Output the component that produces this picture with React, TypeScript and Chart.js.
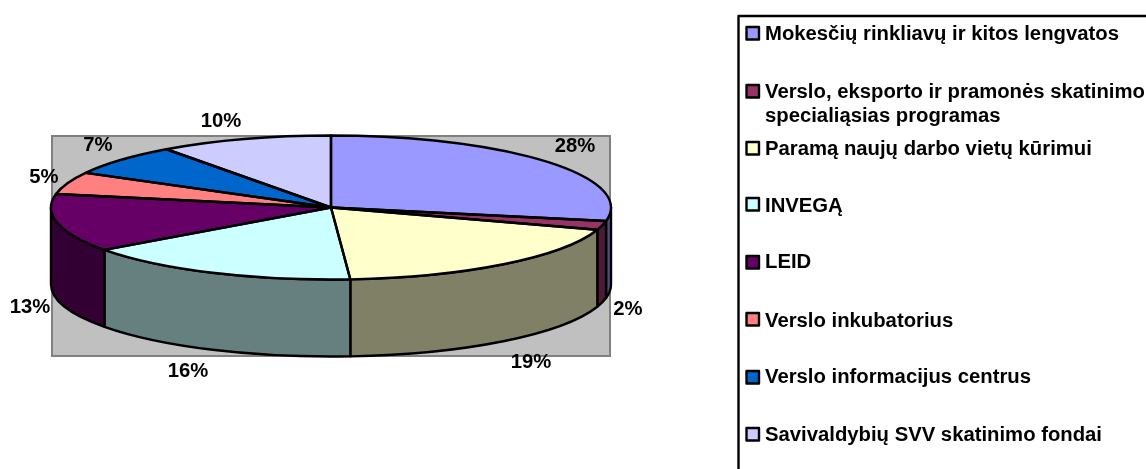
import React, { useEffect, useRef } from "react";
import { Chart, registerables } from "chart.js";

Chart.register(...registerables);

const categories = [
  "Mokesčių rinkliavų ir kitos lengvatos",
  "Verslo, eksporto ir pramonės skatinimo\nspecialiąsias programas",
  "Paramą naujų darbo vietų kūrimui",
  "INVEGĄ",
  "LEID",
  "Verslo inkubatorius",
  "Verslo informacijus centrus",
  "Savivaldybių SVV skatinimo fondai",
];
const shares = [28, 2, 18.9, 16.1, 13, 5, 7, 10];
const topColors = ["#9999FF", "#993366", "#FFFFCC", "#CCFFFF", "#660066", "#FF8080", "#0066CC", "#CCCCFF"];
const sideColors = ["#4D4D80", "#4D1A33", "#808066", "#668080", "#330033", "#804040", "#003366", "#666680"];

// layout of the percent labels: centre x, baseline y
const percentAnchors = [
  [575, 152], [628, 315], [531, 368], [188, 377], [30, 313], [44, 183], [98, 151], [221, 127],
];
const legendSwatchCentres = [33, 91, 148, 204, 262, 319, 377, 434];
const legendBaselines = [40, 98, 155, 212, 268, 327, 383, 441];

const W = 1146, H = 469;
const CX = 331, CY = 207.5, RX = 280, RY = 72, DEPTH = 77;
const FONT = 'bold 20.3px "Liberation Sans", Arial, sans-serif';

const pie3d = {
  id: "pie3d",
  beforeDatasetsDraw(chart: any) {
    const ctx = chart.ctx;
    const arcs = chart.getDatasetMeta(0).data as any[];
    // plot background
    ctx.save();
    ctx.fillStyle = "#C0C0C0";
    ctx.fillRect(52, 136, 558, 220);
    ctx.strokeStyle = "#808080";
    ctx.lineWidth = 2;
    ctx.strokeRect(52, 136, 558, 220);
    // walls
    ctx.strokeStyle = "#000";
    ctx.lineWidth = 2.4;
    ctx.lineJoin = "round";
    arcs.forEach((a, i) => {
      const lo = Math.max(a.startAngle, 0);
      const hi = Math.min(a.endAngle, Math.PI);
      if (lo >= hi) return;
      ctx.beginPath();
      ctx.ellipse(CX, CY, RX, RY, 0, lo, hi);
      ctx.ellipse(CX, CY + DEPTH, RX, RY, 0, hi, lo, true);
      ctx.closePath();
      ctx.fillStyle = sideColors[i];
      ctx.fill();
      ctx.stroke();
    });
    ctx.restore();
    // squash the library's circular pie into the top face
    const { x, y, outerRadius } = arcs[0];
    ctx.save();
    ctx.translate(CX, CY);
    ctx.scale(RX / outerRadius, RY / outerRadius);
    ctx.translate(-x, -y);
  },
  afterDatasetsDraw(chart: any) {
    const ctx = chart.ctx;
    ctx.restore();
    const arcs = chart.getDatasetMeta(0).data as any[];
    ctx.save();
    ctx.strokeStyle = "#000";
    ctx.lineWidth = 2.4;
    ctx.lineJoin = "round";
    arcs.forEach((a) => {
      ctx.beginPath();
      ctx.moveTo(CX, CY);
      ctx.ellipse(CX, CY, RX, RY, 0, a.startAngle, a.endAngle);
      ctx.closePath();
      ctx.stroke();
    });
    // percent labels
    ctx.fillStyle = "#000";
    ctx.font = FONT;
    ctx.textAlign = "center";
    ctx.textBaseline = "alphabetic";
    shares.forEach((v, i) => {
      ctx.fillText(Math.round(v) + "%", percentAnchors[i][0], percentAnchors[i][1]);
    });
    // legend
    ctx.strokeStyle = "#000";
    ctx.lineWidth = 2.4;
    ctx.strokeRect(738.5, 16, W, H);
    ctx.textAlign = "left";
    categories.forEach((c, i) => {
      const sy = legendSwatchCentres[i];
      ctx.fillStyle = topColors[i];
      ctx.fillRect(746.5, sy - 6, 12.5, 12.5);
      ctx.strokeRect(746.5, sy - 6, 12.5, 12.5);
      ctx.fillStyle = "#000";
      c.split("\n").forEach((line, k) => {
        ctx.fillText(line, 765, legendBaselines[i] + k * 24);
      });
    });
    ctx.restore();
  },
};

export default function App() {
  const ref = useRef<HTMLCanvasElement>(null);
  useEffect(() => {
    document.body.style.margin = "0";
    const chart = new Chart(ref.current!, {
      type: "pie",
      data: {
        labels: categories,
        datasets: [{ data: shares, backgroundColor: topColors, borderWidth: 0, clip: false } as any],
      },
      options: {
        animation: false,
        responsive: false,
        plugins: { legend: { display: false }, tooltip: { enabled: false } },
      },
      plugins: [pie3d],
    });
    return () => chart.destroy();
  }, []);
  return <canvas ref={ref} width={W} height={H} style={{ display: "block" }} />;
}
